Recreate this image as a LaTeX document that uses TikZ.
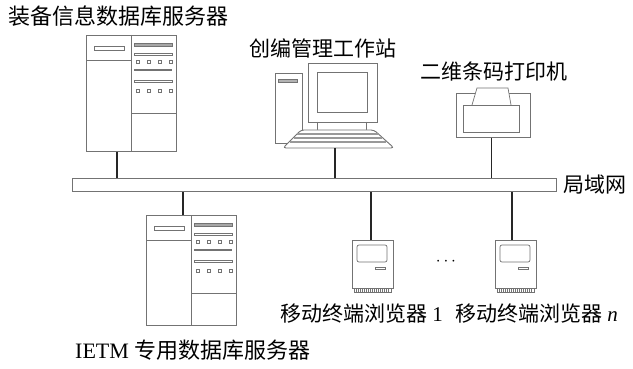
\documentclass[tikz,border=0pt]{standalone}
\usepackage{fontspec}
\setmainfont{Liberation Serif}
\newfontfamily\cjk{Noto Sans CJK SC}
\usetikzlibrary{positioning}

\tikzset{
  dev/.style={draw=black!55, line width=0.9pt, fill=white, inner sep=0pt, anchor=north west},
  part/.style={draw=black!55, line width=0.7pt},
  link/.style={draw=black!85, line width=1.3pt},
  lbl/.style={inner sep=0pt, anchor=west, font=\fontsize{21}{24}\selectfont},
  biglbl/.style={lbl, font=\fontsize{22}{25}\selectfont},
}

% database server cabinet: #1 name, #2 top left corner, #3 height
\newcommand{\dbserver}[3]{%
  \begin{scope}[shift={#2}]
    \node[dev, minimum width=90pt, minimum height=#3pt] (#1) at (0,0) {};
    \draw[part] (45,0) -- (45,#3);
    \draw[part] (0,25) -- (45,25);
    \draw[part] (8,11) rectangle (38,15);
    \draw[part, fill=black!35] (48,8) rectangle (86,11);
    \draw[part] (48,18) rectangle (86,20);
    \foreach \x in {50,61,72,83} {
      \draw[part] (\x,25) rectangle ++(3,3);
      \draw[part] (\x,54) rectangle ++(3,3);
    }
    \draw[part, line width=1.2pt] (48,35) -- (86,35);
    \draw[part] (48,45) rectangle (86,47);
    \draw[part] (45,78) -- (90,78);
  \end{scope}}

% mobile terminal: #1 name, #2 top left corner
\newcommand{\mobterm}[2]{%
  \begin{scope}[shift={#2}]
    \node[dev, minimum width=41pt, minimum height=48pt] (#1) at (0,0) {};
    \draw[part, rounded corners=2pt] (5,5) rectangle (35,22);
    \draw[part] (23,27) rectangle (33,29);
    \draw[part] (2,48) rectangle (39,52);
    \foreach \x in {4,6,...,37}
      \draw[part, line width=0.4pt] (\x,48) -- (\x,52);
  \end{scope}}

\begin{document}
\begin{tikzpicture}[x=1pt, y=-1pt]
  \useasboundingbox[fill=white] (0,0) rectangle (633,369);

  % the LAN bus
  \node[dev, minimum width=484pt, minimum height=13pt] (lan) at (72,178) {};
  \node[lbl] (lanlbl) at ([xshift=6pt]lan.east) {\cjk 局域网};

  % equipment data server
  \dbserver{srvA}{(86,35)}{116}
  \node[biglbl] (srvAlbl) at (8,16) {\cjk 装备信息数据库服务器};

  % workstation: tower, monitor, keyboard
  \draw[part] (275,73) rectangle (302,143);
  \draw[part, fill=black!30] (278,79) rectangle (297,82);
  \node[dev, minimum width=69pt, minimum height=59pt] (mon) at (308,63) {};
  \draw[part] (317,72) rectangle (367,112);
  \draw[part] (317,122) -- (317,131) (366,122) -- (366,131);
  \draw[dev, rounded corners=3pt] (301,130) -- (374,130) -- (394,148) -- (283,148) -- cycle;
  \foreach \y in {134,138,142}
    \draw[part, draw=black!40, line width=1.4pt] (300-0.8*\y+104,\y) -- (375+0.9*\y-117,\y);
  \coordinate (kbd) at (335,148);
  \node[lbl] (wslbl) at (249,48) {\cjk 创编管理工作站};

  % barcode printer
  \node[dev, minimum width=74pt, minimum height=44pt] (prn) at (456,93) {};
  \draw[part, fill=white] (472,105) -- (477,88) -- (508,88) -- (511,105);
  \draw[part, fill=white] (463,105) rectangle (519,132);
  \node[lbl] (prnlbl) at (420,72) {\cjk 二维条码打印机};

  % IETM server and mobile terminals
  \dbserver{srvB}{(146,215)}{110}
  \node[biglbl] (srvBlbl) at (75,350) {IETM {\cjk 专用数据库服务器}};
  \mobterm{term1}{(352,240)}
  \mobterm{termn}{(495,240)}
  \node (dots) at (446,262) {\fontsize{16}{18}\selectfont$\cdots$};
  \node[lbl] (t1lbl) at (280,314) {{\cjk 移动终端浏览器} 1};
  \node[lbl] (tnlbl) at (455,314) {{\cjk 移动终端浏览器} \textit{n}};

  % links to the bus
  \draw[link] ([xshift=31pt]srvA.south west) -- ([xshift=31pt]srvA.south west |- lan.north);
  \draw[link] (kbd) -- (kbd |- lan.north);
  \draw[link] ([xshift=-2pt]prn.south) -- ([xshift=-2pt]prn.south |- lan.north);
  \draw[link] ([xshift=37pt]srvB.north west) -- ([xshift=37pt]srvB.north west |- lan.south);
  \draw[link] ([xshift=-2pt]term1.north) -- ([xshift=-2pt]term1.north |- lan.south);
  \draw[link] ([xshift=-4pt]termn.north) -- ([xshift=-4pt]termn.north |- lan.south);
\end{tikzpicture}
\end{document}
